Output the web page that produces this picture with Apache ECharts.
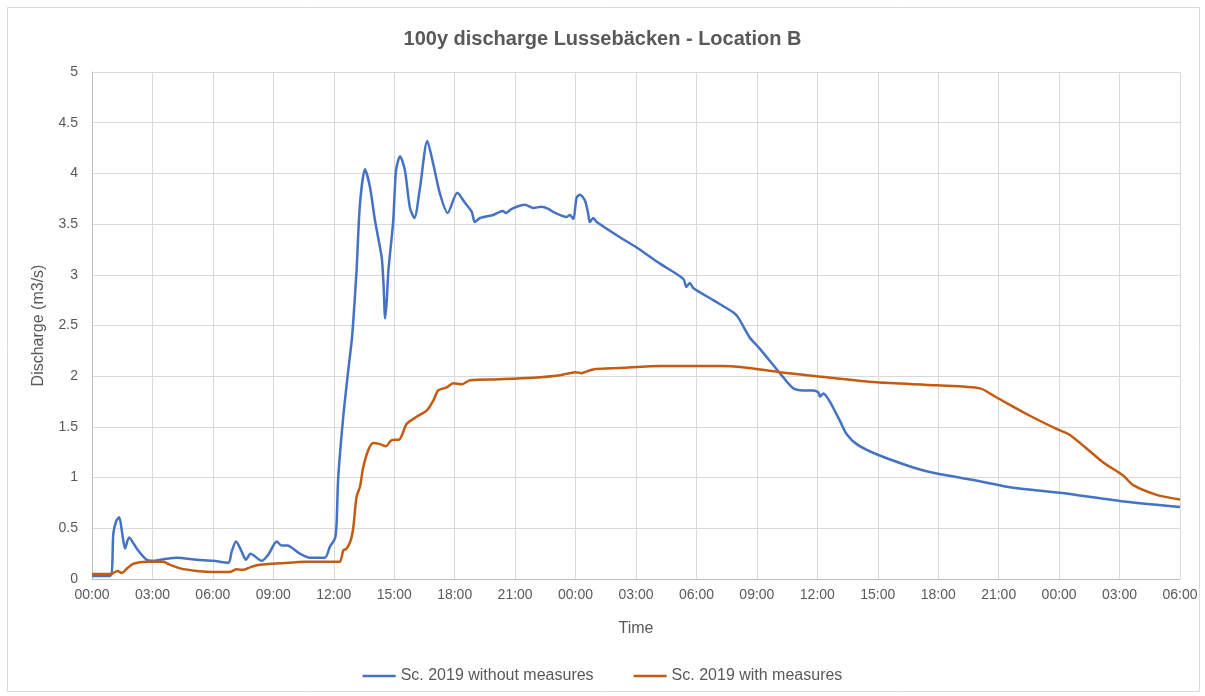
<!DOCTYPE html>
<html>
<head>
<meta charset="utf-8">
<script src="https://cdn.jsdelivr.net/npm/echarts@6/dist/echarts.min.js"></script>
<style>
  html, body { margin: 0; padding: 0; background: #fff; }
  #main { width: 1205px; height: 696px; }
</style>
</head>
<body>
<div id="main"></div>
<script>
// hours since 00:00 of the first day
var blueHours = [0, 0.9, 1.06, 1.2, 1.35, 1.5, 1.64, 1.84, 2.22, 2.71, 3.04, 3.7, 4.2, 5.2, 6.0, 6.77, 6.93, 7.15, 7.43, 7.64, 7.87, 8.42, 8.75, 9.17, 9.41, 9.69, 10.32, 10.82, 11.56, 11.81, 12.06, 12.14, 12.22, 12.47, 12.72, 12.89, 12.97, 13.13, 13.3, 13.55, 13.8, 14.05, 14.38, 14.47, 14.55, 14.63, 14.71, 14.95, 15.09, 15.29, 15.53, 15.78, 16.0, 16.28, 16.64, 16.94, 17.27, 17.65, 18.13, 18.51, 18.85, 19.0, 19.26, 19.92, 20.38, 20.55, 20.83, 21.49, 21.9, 22.32, 22.65, 22.9, 23.56, 23.72, 23.89, 24.05, 24.22, 24.47, 24.63, 24.71, 24.88, 25.05, 26.2, 27.03, 28.19, 29.35, 29.5, 29.67, 29.84, 30.83, 31.82, 32.07, 32.65, 33.15, 34.14, 34.8, 35.3, 35.8, 36.05, 36.13, 36.3, 36.62, 37.12, 37.45, 37.95, 38.94, 40.76, 41.92, 44.07, 45.72, 48.04, 51.0, 54.0];
var blueValues = [0.03, 0.03, 0.45, 0.57, 0.61, 0.45, 0.30, 0.41, 0.30, 0.19, 0.18, 0.20, 0.21, 0.19, 0.18, 0.16, 0.27, 0.37, 0.27, 0.19, 0.25, 0.18, 0.24, 0.37, 0.33, 0.33, 0.25, 0.21, 0.21, 0.32, 0.40, 0.55, 1.0, 1.6, 2.06, 2.35, 2.55, 3.04, 3.70, 4.04, 3.86, 3.53, 3.17, 2.9, 2.57, 2.75, 3.04, 3.53, 4.03, 4.17, 4.03, 3.66, 3.56, 3.86, 4.32, 4.09, 3.80, 3.61, 3.81, 3.71, 3.62, 3.52, 3.56, 3.59, 3.63, 3.61, 3.65, 3.69, 3.66, 3.67, 3.65, 3.62, 3.57, 3.59, 3.55, 3.76, 3.79, 3.73, 3.60, 3.52, 3.56, 3.52, 3.37, 3.27, 3.11, 2.96, 2.88, 2.92, 2.87, 2.75, 2.63, 2.58, 2.38, 2.27, 2.03, 1.88, 1.86, 1.86, 1.84, 1.80, 1.83, 1.75, 1.56, 1.43, 1.33, 1.23, 1.10, 1.04, 0.965, 0.90, 0.85, 0.77, 0.71];

var orangeHours = [0, 0.98, 1.26, 1.47, 1.72, 2.05, 2.71, 3.54, 3.87, 4.37, 5.2, 6.02, 6.85, 7.18, 7.51, 7.84, 8.34, 9.33, 10.65, 12.14, 12.31, 12.47, 12.64, 12.84, 12.97, 13.13, 13.3, 13.46, 13.71, 13.96, 14.29, 14.59, 14.87, 15.25, 15.62, 16.11, 16.61, 16.94, 17.18, 17.6, 17.93, 18.35, 18.76, 20.25, 21.9, 23.23, 24.0, 24.3, 24.6, 25.0, 26.2, 28.2, 30.2, 31.2, 32.2, 34.14, 35.96, 38.94, 41.92, 44.07, 44.9, 46.55, 47.87, 48.54, 50.19, 51.18, 51.68, 52.84, 54];
var orangeValues = [0.05, 0.05, 0.08, 0.06, 0.10, 0.15, 0.17, 0.17, 0.14, 0.105, 0.08, 0.07, 0.07, 0.095, 0.09, 0.115, 0.14, 0.155, 0.17, 0.17, 0.17, 0.28, 0.30, 0.38, 0.51, 0.81, 0.91, 1.10, 1.27, 1.34, 1.33, 1.31, 1.37, 1.375, 1.53, 1.60, 1.66, 1.76, 1.86, 1.89, 1.93, 1.92, 1.96, 1.97, 1.985, 2.01, 2.04, 2.03, 2.05, 2.07, 2.08, 2.10, 2.10, 2.10, 2.09, 2.04, 2.00, 1.94, 1.91, 1.88, 1.79, 1.61, 1.48, 1.42, 1.15, 1.02, 0.925, 0.83, 0.785];

var seriesNames = ['Sc. 2019 without measures', 'Sc. 2019 with measures'];

function pairs(xs, ys) {
  return xs.map(function (x, i) { return [x, ys[i]]; });
}
function hourLabel(h) {
  var hh = h % 24;
  return (hh < 10 ? '0' : '') + hh + ':00';
}

var font = 'Liberation Sans';
var myChart = echarts.init(document.getElementById('main'));
myChart.setOption({
  animation: false,
  textStyle: { fontFamily: font },
  graphic: [{
    type: 'rect',
    shape: { x: 7.5, y: 7.5, width: 1192, height: 684 },
    style: { fill: 'none', stroke: '#d9d9d9', lineWidth: 1 },
    silent: true
  }],
  title: {
    text: '100y discharge Lussebäcken - Location B',
    left: 'center',
    top: 24,
    textStyle: { fontFamily: font, fontSize: 20, fontWeight: 'bold', color: '#595959' }
  },
  legend: {
    bottom: 7,
    left: 'center',
    icon: 'rect',
    itemWidth: 33,
    itemHeight: 2.5,
    itemGap: 40,
    textStyle: { fontFamily: font, fontSize: 16, color: '#595959' },
    data: seriesNames
  },
  grid: { left: 92, right: 25, top: 72, bottom: 117 },
  xAxis: {
    type: 'value',
    min: 0,
    max: 54,
    interval: 3,
    name: 'Time',
    nameLocation: 'middle',
    nameGap: 42,
    nameTextStyle: { fontSize: 16, color: '#595959' },
    axisLine: { lineStyle: { color: '#bfbfbf' } },
    axisTick: { show: false },
    axisLabel: { formatter: hourLabel, fontSize: 14, color: '#595959', margin: 9 },
    splitLine: { show: true, lineStyle: { color: '#d9d9d9' } }
  },
  yAxis: {
    type: 'value',
    min: 0,
    max: 5,
    interval: 0.5,
    name: 'Discharge (m3/s)',
    nameLocation: 'middle',
    nameGap: 45,
    nameTextStyle: { fontSize: 16, color: '#595959' },
    axisLine: { show: true, lineStyle: { color: '#bfbfbf' } },
    axisTick: { show: false },
    axisLabel: { fontSize: 14, color: '#595959', margin: 14 },
    splitLine: { lineStyle: { color: '#d9d9d9' } }
  },
  series: [
    {
      name: seriesNames[0],
      type: 'line',
      data: pairs(blueHours, blueValues),
      symbol: 'none',
      smooth: 0.25,
      lineStyle: { color: '#4472C4', width: 2.5 },
      itemStyle: { color: '#4472C4' }
    },
    {
      name: seriesNames[1],
      type: 'line',
      data: pairs(orangeHours, orangeValues),
      symbol: 'none',
      smooth: 0.25,
      lineStyle: { color: '#C55A11', width: 2.5 },
      itemStyle: { color: '#C55A11' }
    }
  ]
});
</script>
</body>
</html>
